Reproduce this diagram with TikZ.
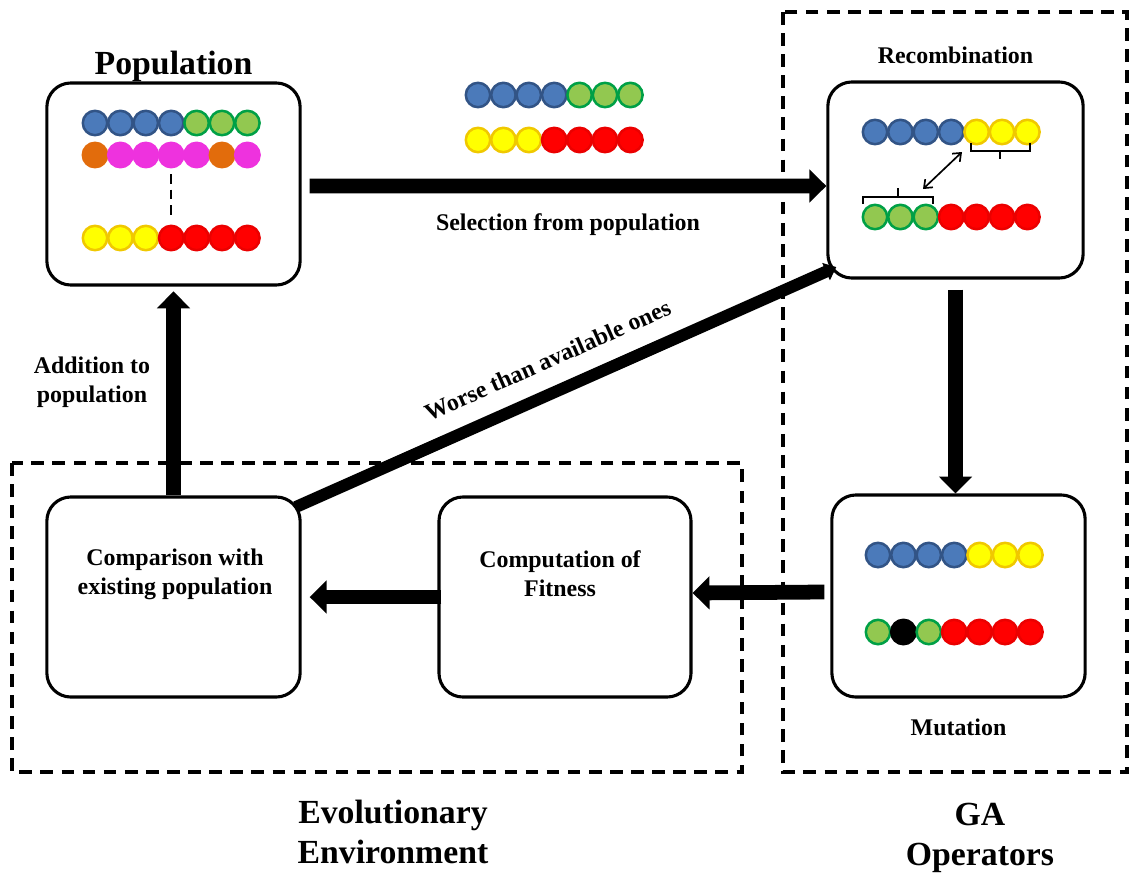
\documentclass[tikz,border=0pt]{standalone}
\usepackage{fontspec}
\setmainfont{Liberation Serif}
\usepackage{tikz}
\usetikzlibrary{positioning, arrows.meta, shapes}
\definecolor{genblue}{RGB}{75, 122, 186}
\definecolor{genblueedge}{RGB}{50, 84, 134}
\definecolor{gengreen}{RGB}{146, 200, 80}
\definecolor{gengreenedge}{RGB}{0, 160, 70}
\definecolor{genyellow}{RGB}{255, 255, 0}
\definecolor{genyellowedge}{RGB}{240, 200, 0}
\definecolor{genred}{RGB}{255, 0, 0}
\definecolor{genrededge}{RGB}{235, 0, 0}
\definecolor{genpink}{RGB}{238, 50, 222}
\definecolor{genpinkedge}{RGB}{238, 50, 222}
\definecolor{genorange}{RGB}{226, 108, 12}
\definecolor{genorangeedge}{RGB}{226, 108, 12}
\definecolor{genblack}{RGB}{0, 0, 0}
\definecolor{genblackedge}{RGB}{0, 0, 0}

% one chromosome: name, x of first bead, y, colours
\newcommand{\beadrow}[4]{
  \foreach \c [count=\i from 0] in {#4}
    \node [bead=\c] (#1-\i) at ({#2+\i*25.4}, #3) {};
}

\begin{document}
\begin{tikzpicture}[x = 0.025cm, y = -0.025cm, node distance = 0.3cm,
  procbox/.style={draw, rounded corners = 0.6cm, line width = 2.2pt},
  lbl/.style={font = \bfseries\fontsize{17}{20.5}\selectfont, align = center},
  bigtitle/.style={font = \bfseries\fontsize{24}{28.5}\selectfont, align = center},
  bead/.style={circle, inner sep = 0pt, minimum size = 0.61cm, line width = 1.8pt, draw = #1edge, fill = #1},
  bigarrow/.style={line width = 10.5pt, -{Triangle[width = 23pt, length = 12pt]}},
  groupbox/.style={line width = 2.6pt, dash pattern = on 9pt off 6pt}]
  \useasboundingbox (0,0) rectangle (1130,875);

  % groups
  \draw [groupbox] (12,463) rectangle (742,772);
  \draw [groupbox] (783,12) rectangle (1127,772);
  \node [bigtitle] (evoenv) at (393,832) {Evolutionary\\Environment};
  \node [bigtitle] (gaops) at (980,838) {GA\\Operators};

  % nodes
  \node [procbox, minimum width = 6.33cm, minimum height = 5.05cm] (pop) at (173.5,184) {};
  \node [bigtitle][above = -0.12cm of pop] (poptitle) {Population};
  \node [procbox, minimum width = 6.38cm, minimum height = 4.9cm] (recomb) at (955.5,180) {};
  \node [lbl][above = 0.3cm of recomb] (recombtitle) {Recombination};
  \node [procbox, minimum width = 6.33cm, minimum height = 5.05cm] (mut) at (958.5,596) {};
  \node [lbl][below = 0.38cm of mut] (muttitle) {Mutation};
  \node [procbox, minimum width = 6.3cm, minimum height = 5cm] (comp) at (565,597) {};
  \node [lbl] (comptext) at (560,574) {Computation of\\Fitness};
  \node [procbox, minimum width = 6.33cm, minimum height = 5cm] (cmp) at (173.5,597) {};
  \node [lbl] (cmptext) at (175,574) {Comparison with\\existing population};

  % chromosomes
  \beadrow{pa}{95}{123}{genblue,genblue,genblue,genblue,gengreen,gengreen,gengreen}
  \beadrow{pb}{95}{155}{genorange,genpink,genpink,genpink,genpink,genorange,genpink}
  \beadrow{pc}{95}{238}{genyellow,genyellow,genyellow,genred,genred,genred,genred}
  \draw [line width = 1.4pt, dash pattern = on 7pt off 4pt, shorten <= 4pt, shorten >= 5pt] (pb-3.south) -- (pc-3.north);
  \beadrow{sa}{478}{95}{genblue,genblue,genblue,genblue,gengreen,gengreen,gengreen}
  \beadrow{sb}{478}{140}{genyellow,genyellow,genyellow,genred,genred,genred,genred}
  \beadrow{ra}{875}{132}{genblue,genblue,genblue,genblue,genyellow,genyellow,genyellow}
  \beadrow{rb}{875}{217}{gengreen,gengreen,gengreen,genred,genred,genred,genred}
  \beadrow{ma}{878}{555}{genblue,genblue,genblue,genblue,genyellow,genyellow,genyellow}
  \beadrow{mb}{878}{632}{gengreen,genblack,gengreen,genred,genred,genred,genred}

  % crossover marks
  \draw [line width = 1.6pt] (971,143) -- (971,151) -- (1030,151) -- (1030,143) (1000,151) -- (1000,159);
  \draw [line width = 1.6pt] (863,204) -- (863,197) -- (933,197) -- (933,204) (898,197) -- (898,188);
  \coordinate (swapa) at (962,152);
  \coordinate (swapb) at (923,189);
  \draw [{Straight Barb[length = 5pt, width = 8pt]}-{Straight Barb[length = 5pt, width = 8pt]}, line width = 1.2pt] (swapa) -- (swapb);

  % edges
  \draw [bigarrow] ([xshift = 0.2cm, yshift = -0.05cm]pop.east) -- ([yshift = -0.15cm]recomb.west)
    node [lbl, midway, below = 0.38cm] (sellbl) {Selection from population};
  \draw [bigarrow] ([yshift = -0.25cm]recomb.south) -- (mut.north -| recomb.south);
  \draw [bigarrow] ([xshift = -0.15cm, yshift = 0.1cm]mut.west) -- ([yshift = 0.1cm]comp.east);
  \draw [bigarrow] ([xshift = 0.1cm]comp.west) -- ([xshift = 0.2cm]cmp.east);
  \draw [bigarrow] (cmp.north) -- ([yshift = -0.12cm]pop.south);
  \node [lbl] (addlbl) at (92,382) {Addition to\\population};
  \draw [line width = 8.5pt, -{Triangle[width = 13pt, length = 8pt]}] ([xshift = -0.15cm, yshift = -0.08cm]cmp.36) -- ([xshift = 0.25cm, yshift = 0.17cm]recomb.216)
    node [lbl, pos = 0.49, sloped, above = 0.32cm] (worselbl) {Worse than available ones};
\end{tikzpicture}
\end{document}
